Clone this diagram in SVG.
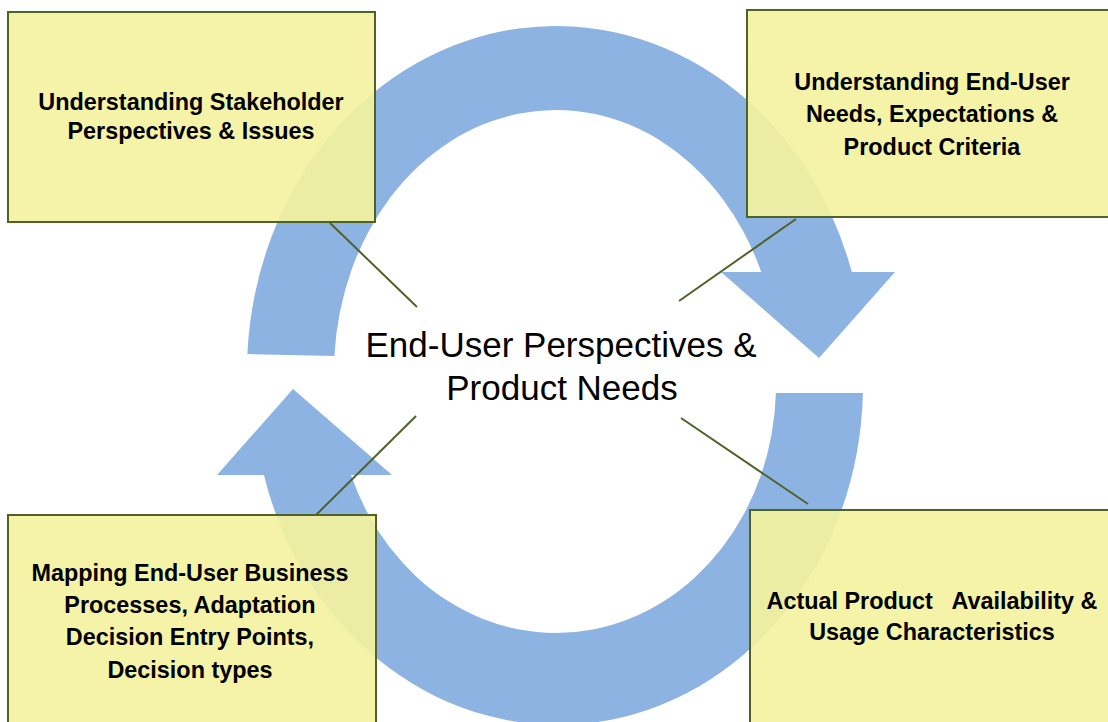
<svg xmlns="http://www.w3.org/2000/svg" width="1108" height="722" viewBox="0 0 1108 722">
  <style>
    .arrow { fill: #8DB3E2; stroke: none; }
    .box { fill: #F3F2A0; fill-opacity: 0.92; stroke: #4F6228; stroke-width: 2; }
    .lbl { font-family: "Liberation Sans", Arial, sans-serif; font-weight: bold; font-size: 23.4px; fill: #000; text-anchor: middle; }
    .center { font-family: "Liberation Sans", Arial, sans-serif; font-size: 35px; fill: #000; text-anchor: middle; }
    .conn { stroke: #4F6228; stroke-width: 2; fill: none; }
  </style>
  <rect width="1108" height="722" fill="#ffffff"/>
  <g id="cycle-arrows">
    <path id="arrow-top" class="arrow" d="M 247.4 354 A 309 346 0 0 1 851.8 272 L 895 272 L 819 358 L 721 272 L 761.2 272 A 222 262 0 0 0 334.4 356 Z"/>
    <path id="arrow-bottom" class="arrow" d="M 862.9 393 A 305 340 0 0 1 263.9 475 L 217 475 L 293 389 L 392 475 L 351 475 A 220 248 0 0 0 775.9 393 Z"/>
  </g>
  <g id="center">
    <text class="center" x="561" y="357">End-User Perspectives &amp;</text>
    <text class="center" x="562" y="400">Product Needs</text>
  </g>
  <g id="connectors">
    <line class="conn" x1="330" y1="223" x2="417" y2="307"/>
    <line class="conn" x1="796" y1="219" x2="679" y2="301"/>
    <line class="conn" x1="416" y1="416" x2="316" y2="515"/>
    <line class="conn" x1="681" y1="418" x2="808" y2="504"/>
  </g>
  <g id="node-stakeholder">
    <rect class="box" x="8" y="12" width="367" height="210"/>
    <text class="lbl" x="191" y="110">Understanding Stakeholder</text>
    <text class="lbl" x="191" y="139">Perspectives &amp; Issues</text>
  </g>
  <g id="node-enduser-needs">
    <rect class="box" x="747" y="10" width="372" height="207"/>
    <text class="lbl" x="932" y="90">Understanding End-User</text>
    <text class="lbl" x="932" y="122">Needs, Expectations &amp;</text>
    <text class="lbl" x="932" y="155">Product Criteria</text>
  </g>
  <g id="node-mapping">
    <rect class="box" x="8" y="515" width="368" height="222"/>
    <text class="lbl" x="190" y="581">Mapping End-User Business</text>
    <text class="lbl" x="190" y="613">Processes, Adaptation</text>
    <text class="lbl" x="190" y="645">Decision Entry Points,</text>
    <text class="lbl" x="190" y="678">Decision types</text>
  </g>
  <g id="node-availability">
    <rect class="box" x="750" y="510" width="372" height="227"/>
    <text class="lbl" x="932" y="609" xml:space="preserve">Actual Product   Availability &amp;</text>
    <text class="lbl" x="932" y="640">Usage Characteristics</text>
  </g>
</svg>
